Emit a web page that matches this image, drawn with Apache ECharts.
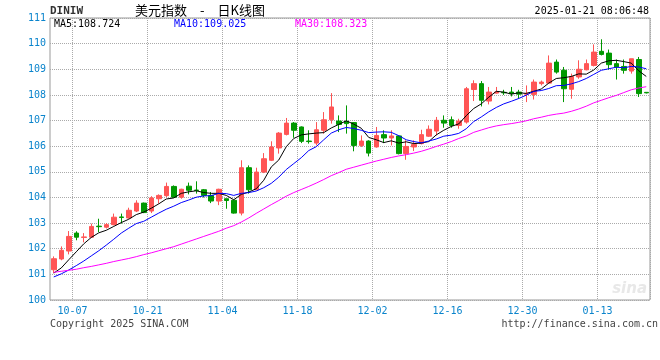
<!DOCTYPE html>
<html>
<head>
<meta charset="utf-8">
<script src="https://cdn.jsdelivr.net/npm/echarts@6/dist/echarts.min.js"></script>
<style>html,body{margin:0;padding:0;background:#fff;}#c{width:660px;height:360px;}</style>
</head>
<body>
<div id="c"></div>
<script>
const dates = ['10-02','10-03','10-04','10-07','10-08','10-09','10-10','10-11','10-14','10-15',
'10-16','10-17','10-18','10-21','10-22','10-23','10-24','10-25','10-28','10-29',
'10-30','10-31','11-01','11-04','11-05','11-06','11-07','11-08','11-11','11-12',
'11-13','11-14','11-15','11-18','11-19','11-20','11-21','11-22','11-25','11-26',
'11-27','11-28','11-29','12-02','12-03','12-04','12-05','12-06','12-09','12-10',
'12-11','12-12','12-13','12-16','12-17','12-18','12-19','12-20','12-23','12-24',
'12-25','12-26','12-27','12-30','12-31','01-01','01-02','01-03','01-06','01-07',
'01-08','01-09','01-10','01-13','01-14','01-15','01-16','01-17','01-20','01-21'];

const xTickLabels = ['10-07','10-21','11-04','11-18','12-02','12-16','12-30','01-13'];

const openP = [101.18,101.60,101.91,102.61,102.44,102.45,102.88,102.84,102.94,103.24,
103.20,103.47,103.78,103.47,103.95,104.07,104.43,104.01,104.44,104.29,
104.30,104.08,103.86,103.95,103.89,103.39,105.16,104.30,104.99,105.45,
105.93,106.46,106.90,106.75,106.20,106.12,106.62,107.03,106.98,106.97,
106.92,106.03,106.20,105.97,106.45,106.32,106.40,105.71,105.97,106.10,
106.39,106.59,107.01,107.03,106.81,106.94,108.21,108.44,107.76,108.07,
108.10,108.11,108.11,108.03,108.02,108.44,108.46,109.28,108.96,108.22,
108.70,108.98,109.15,109.70,109.63,109.22,109.11,108.93,109.38,108.10];

const closeP = [101.61,101.94,102.48,102.45,102.46,102.87,102.86,102.94,103.23,103.22,
103.50,103.78,103.41,103.98,104.08,104.43,104.01,104.32,104.28,104.27,
104.08,103.86,104.32,103.88,103.39,105.16,104.30,104.99,105.51,105.97,
106.51,106.90,106.62,106.19,106.18,106.64,107.03,107.53,106.85,106.88,
106.03,106.20,105.73,106.42,106.32,106.40,105.71,105.99,106.07,106.45,
106.66,107.01,106.90,106.81,106.98,108.24,108.44,107.79,108.11,108.11,
108.08,108.05,108.03,108.05,108.50,108.50,109.24,108.89,108.24,108.72,
109.00,109.22,109.67,109.58,109.18,109.09,108.96,109.41,108.05,108.08];

const lowP = [101.05,101.55,101.78,102.33,102.25,102.43,102.65,102.79,102.91,102.98,
103.17,103.43,103.39,103.39,103.76,104.01,103.99,103.95,104.12,104.15,
104.00,103.78,103.70,103.56,103.37,103.30,104.15,104.28,104.95,105.42,
105.71,106.42,106.33,106.12,106.10,106.03,106.49,106.88,106.55,106.49,
105.80,105.97,105.60,105.94,106.12,106.03,105.68,105.47,105.81,106.07,
106.36,106.42,106.72,106.72,106.68,106.88,107.76,107.55,107.63,108.05,
108.00,107.94,107.85,107.72,107.82,108.37,108.44,108.83,107.72,107.85,
108.63,108.96,109.11,109.54,108.99,108.60,108.83,108.83,107.92,108.06];

const highP = [101.70,102.09,102.69,102.68,102.61,102.98,103.17,103.00,103.37,103.37,
103.60,103.89,103.80,104.05,104.12,104.58,104.47,104.34,104.58,104.63,
104.33,104.21,104.34,103.95,103.92,105.45,105.25,105.16,105.73,106.19,
106.55,107.10,106.94,106.77,106.62,106.94,107.33,108.07,107.20,107.59,
106.94,106.42,106.23,106.75,106.62,106.62,106.42,106.23,106.23,106.64,
106.81,107.14,107.20,107.16,107.07,108.31,108.57,108.54,108.31,108.31,
108.20,108.31,108.20,108.37,108.60,108.56,109.54,109.38,109.09,108.83,
109.35,109.38,109.97,110.17,109.77,109.38,109.38,109.41,109.48,108.10];

const ma5 = [101.05,101.25,101.57,101.88,102.19,102.44,102.62,102.72,102.87,103.02,
103.15,103.33,103.43,103.58,103.75,103.94,103.98,104.16,104.22,104.26,
104.19,104.16,104.16,104.08,103.91,104.12,104.21,104.34,104.67,105.19,
105.46,105.98,106.30,106.44,106.48,106.51,106.53,106.71,106.85,106.99,
106.86,106.70,106.34,106.25,106.14,106.21,106.12,106.17,106.10,106.12,
106.18,106.44,106.62,106.77,106.87,107.19,107.47,107.65,107.91,108.14,
108.11,108.03,108.08,108.06,108.14,108.23,108.46,108.64,108.67,108.72,
108.82,108.81,108.97,109.24,109.33,109.35,109.30,109.24,108.94,108.72];

const ma10 = [100.90,101.02,101.17,101.34,101.52,101.72,101.92,102.14,102.37,102.61,
102.80,102.98,103.07,103.23,103.39,103.54,103.66,103.80,103.90,104.01,
104.06,104.07,104.16,104.15,104.08,104.16,104.19,104.25,104.38,104.55,
104.79,105.09,105.32,105.55,105.83,105.98,106.25,106.51,106.64,106.73,
106.69,106.62,106.53,106.55,106.56,106.54,106.41,106.25,106.18,106.13,
106.20,106.28,106.39,106.43,106.50,106.68,106.96,107.14,107.34,107.51,
107.65,107.75,107.86,107.99,108.14,108.17,108.25,108.36,108.37,108.43,
108.52,108.64,108.80,108.96,109.02,109.08,109.06,109.11,109.09,109.02];

const ma30 = [101.08,101.12,101.16,101.20,101.26,101.31,101.37,101.43,101.50,101.56,
101.62,101.69,101.77,101.84,101.92,102.00,102.08,102.18,102.28,102.38,
102.48,102.58,102.68,102.80,102.90,103.04,103.20,103.38,103.55,103.72,
103.88,104.05,104.19,104.31,104.43,104.56,104.70,104.85,104.97,105.10,
105.18,105.26,105.34,105.42,105.49,105.56,105.62,105.67,105.73,105.80,
105.89,105.99,106.08,106.18,106.30,106.40,106.54,106.63,106.72,106.79,
106.84,106.88,106.93,106.99,107.07,107.13,107.20,107.25,107.29,107.36,
107.45,107.56,107.69,107.79,107.89,107.98,108.09,108.20,108.27,108.32];

const yMin = 100, yMax = 111, yStep = 1;

const kData = dates.map((d, i) => [openP[i], closeP[i], lowP[i], highP[i]]);
const showTick = (i) => xTickLabels.indexOf(dates[i]) >= 0;

const MONO = '"DejaVu Sans Mono", monospace';
const BLUE = '#0a84cc';

const chart = echarts.init(document.getElementById('c'), null, {renderer: 'canvas'});
chart.setOption({
  animation: false,
  backgroundColor: '#fff',
  grid: {left: 50, right: 10, top: 18, bottom: 60, show: true, borderColor: '#999', borderWidth: 1, backgroundColor: 'transparent'},
  xAxis: {
    type: 'category', data: dates, boundaryGap: true,
    axisLine: {show: false}, axisTick: {show: false},
    axisLabel: {interval: (i) => showTick(i), color: BLUE, fontFamily: MONO, fontSize: 10, margin: 6, padding: [0, 7.5, 0, 0]},
    splitLine: {show: true, interval: (i) => showTick(i), lineStyle: {type: [1, 1], color: '#aaa', width: 1}}
  },
  yAxis: {
    type: 'value', min: yMin, max: yMax, interval: yStep, scale: true,
    axisLine: {show: false}, axisTick: {show: false},
    axisLabel: {color: BLUE, fontFamily: MONO, fontSize: 10, margin: 4},
    splitLine: {show: true, lineStyle: {type: [1, 1], color: '#aaa', width: 1}}
  },
  series: [
    {type: 'candlestick', data: kData, barWidth: 5,
     itemStyle: {color: '#ff5555', color0: '#009900', borderColor: '#ff5555', borderColor0: '#009900', borderColorDoji: '#ff5555', borderWidth: 1}},
    {type: 'line', data: ma5, symbol: 'none', lineStyle: {color: '#000', width: 1}, z: 3},
    {type: 'line', data: ma10, symbol: 'none', lineStyle: {color: '#0000ff', width: 1}, z: 3},
    {type: 'line', data: ma30, symbol: 'none', lineStyle: {color: '#ff00ff', width: 1}, z: 3}
  ],
  graphic: [
    {type: 'text', x: 50, y: 11, style: {text: 'DINIW', font: 'bold 11px ' + MONO, fill: '#333', verticalAlign: 'middle'}},
    {type: 'text', x: 200, y: 10, style: {text: '美元指数\u2002\u2002-\u2002\u2002日K线图', font: '13px "Noto Sans CJK SC"', fill: '#000', align: 'center', verticalAlign: 'middle'}},
    {type: 'text', x: 649, y: 11, style: {text: '2025-01-21 08:06:48', font: '10px ' + MONO, fill: '#000', align: 'right', verticalAlign: 'middle'}},
    {type: 'text', x: 54, y: 24, z: 10, style: {text: 'MA5:108.724', font: '10px ' + MONO, fill: '#000', verticalAlign: 'middle'}},
    {type: 'text', x: 174, y: 24, z: 10, style: {text: 'MA10:109.025', font: '10px ' + MONO, fill: '#0000ff', verticalAlign: 'middle'}},
    {type: 'text', x: 295, y: 24, z: 10, style: {text: 'MA30:108.323', font: '10px ' + MONO, fill: '#ff00ff', verticalAlign: 'middle'}},
    {type: 'text', x: 50, y: 324, style: {text: 'Copyright 2025 SINA.COM', font: '10px ' + MONO, fill: '#444', verticalAlign: 'middle'}},
    {type: 'text', x: 658, y: 324, style: {text: 'http://finance.sina.com.cn', font: '10px ' + MONO, fill: '#444', align: 'right', verticalAlign: 'middle'}},
    {type: 'text', x: 647, y: 289, z: 0, style: {text: 'sina', font: 'italic bold 15px "DejaVu Sans"', fill: '#e8e8e8', align: 'right', verticalAlign: 'middle'}}
  ]
});
</script>
</body>
</html>
